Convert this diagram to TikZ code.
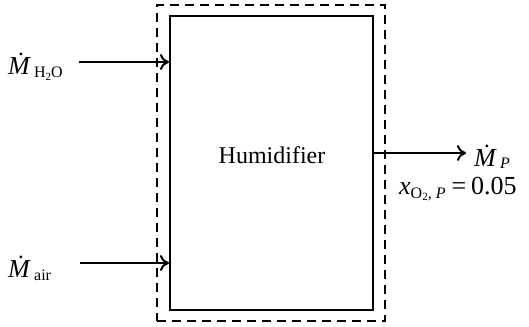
\documentclass[tikz,border=0pt]{standalone}
\usepackage{fontspec}
\setmainfont{Liberation Serif}
\usetikzlibrary{arrows.meta}
\newcommand{\subsz}{\fontsize{16}{18}\selectfont}
\newcommand{\subsubsz}{\fontsize{11}{12}\selectfont}
\begin{document}
\begin{tikzpicture}[x=1pt,y=-1pt,
  flow/.style={line width=2pt,-{To[length=9pt,width=16pt,line width=2pt]}},
  lbl/.style={font=\fontsize{26}{28}\selectfont,inner sep=0pt},
  ttl/.style={font=\fontsize{24}{26}\selectfont,inner sep=0pt}]
\useasboundingbox (0,0) rectangle (529,326);
\node[draw,line width=2.5pt,dash pattern=on 9pt off 6pt,minimum width=228pt,minimum height=316pt,inner sep=0pt] (cv) at (271,163) {};
\node[draw,line width=2pt,minimum width=203pt,minimum height=294pt,inner sep=0pt] (hum) at (271.5,163) {};
\node[ttl] (ht) at (272,155) {Humidifier};
\coordinate (inA) at (79,62);
\coordinate (inB) at (80,263);
\coordinate (outP) at (466,153);
\draw[flow] (inA) -- (inA -| hum.west);
\draw[flow] (inB) -- (inB -| hum.west);
\draw[flow] (outP -| hum.east) -- (outP);
\node[lbl,anchor=west] (mh) at (8,67) {\itshape\.M\,\raisebox{-0.25ex}{\subsz\upshape H\raisebox{-0.35ex}{\subsubsz 2}O}};
\node[lbl,anchor=west] (ma) at (8,268) {\itshape\.M\,\raisebox{-0.25ex}{\subsz\upshape air}};
\node[lbl,anchor=west] (mp) at (474,157) {\itshape\.M\,\raisebox{-0.2ex}{\subsz P}};
\node[lbl,anchor=west] (xo) at (399,189) {\itshape x\raisebox{-0.3ex}{\subsz\upshape O\raisebox{-0.35ex}{\subsubsz 2}, \itshape P}\upshape\hspace{6pt}=\hspace{5pt}0.05};
\end{tikzpicture}
\end{document}
